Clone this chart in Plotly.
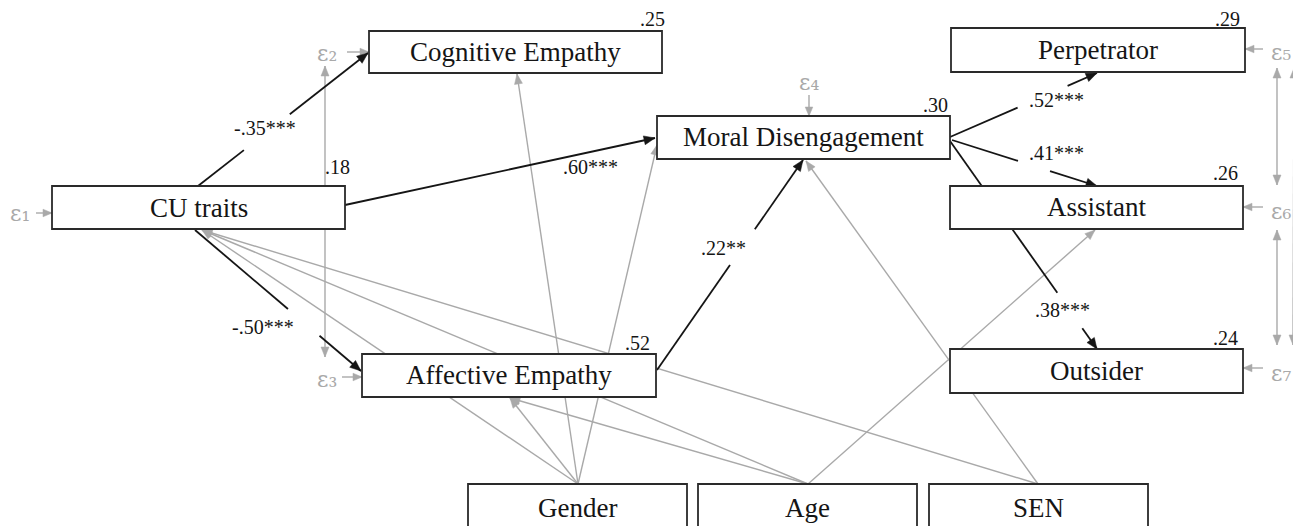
import numpy as np
import plotly.graph_objects as go

# ------------------------------------------------------------------ data
node_names = ["CU traits", "Cognitive Empathy", "Affective Empathy", "Moral Disengagement",
              "Perpetrator", "Assistant", "Outsider", "Gender", "Age", "SEN"]
r_squared = [".18", ".25", ".52", ".30", ".29", ".26", ".24", "", "", ""]

path_from = ["CU traits", "CU traits", "CU traits", "Affective Empathy",
             "Moral Disengagement", "Moral Disengagement", "Moral Disengagement"]
path_to = ["Cognitive Empathy", "Affective Empathy", "Moral Disengagement", "Moral Disengagement",
           "Perpetrator", "Assistant", "Outsider"]
path_coef = ["-.35***", "-.50***", ".60***", ".22**", ".52***", ".41***", ".38***"]

covariate_from = ["Gender", "Gender", "Gender", "Gender", "Age", "Age", "Age", "SEN", "SEN"]
covariate_to = ["CU traits", "Affective Empathy", "Cognitive Empathy", "Moral Disengagement",
                "CU traits", "Affective Empathy", "Assistant", "CU traits", "Moral Disengagement"]

error_labels = ["ε₁", "ε₂", "ε₃", "ε₄", "ε₅", "ε₆", "ε₇"]
error_targets = ["CU traits", "Cognitive Empathy", "Affective Empathy", "Moral Disengagement",
                 "Perpetrator", "Assistant", "Outsider"]
error_cov_pairs = [("ε₂", "ε₃"), ("ε₅", "ε₆"), ("ε₆", "ε₇"), ("ε₅", "ε₇")]

# ------------------------------------------------------------------ layout (page pixels)
W, H = 1301, 526
PAD = 8  # default body margin of the html page
box_x0 = [52, 369, 362, 657, 951, 950, 950, 468, 698, 929]
box_x1 = [345, 662, 656, 950, 1245, 1243, 1243, 687, 917, 1148]
box_y0 = [186, 31, 354, 116, 28, 186, 349, 484, 484, 484]
box_y1 = [229, 73, 397, 159, 72, 229, 393, 545, 545, 545]
label_y = [208, 52, 375, 137, 50, 207, 371, 508, 508, 508]
r2_pos = [(352, 167), (667, 19), (652, 343), (950, 105), (1242, 19), (1240, 173), (1240, 338),
          None, None, None]

# path geometry: start, end (arrow tip), gap along the line, label position
path_geom = [
    ((198, 186), (368, 53), (0.27, 0.54), (265, 128)),
    ((195, 230), (361, 371), (0.56, 0.75), (263, 327)),
    ((345, 205), (655, 138), None, (590, 167)),
    ((657, 370), (803, 160), (0.50, 0.67), (723, 248)),
    ((950, 137), (1097, 73), (0.46, 0.80), (1056, 100)),
    ((952, 140), (1097, 186), (0.455, 0.676), (1056, 153)),
    ((950, 141), (1097, 349), (0.73, 0.90), (1062, 310)),
]
cov_geom = [
    ((578, 484), (202, 230)),
    ((578, 484), (510, 398)),
    ((578, 484), (517, 74)),
    ((578, 484), (657, 145)),
    ((808, 484), (202, 230)),
    ((808, 484), (510, 398)),
    ((808, 484), (1095, 230)),
    ((1038, 484), (202, 230)),
    ((1038, 484), (806, 161)),
]
err_geom = [  # text pos, arrow start, arrow tip
    ((20, 213), (36, 213), (52, 213)),
    ((327, 53), (347, 52), (369, 52)),
    ((327, 379), (342, 377), (362, 377)),
    ((809, 82), (809, 95), (809, 116)),
    ((1281, 52), (1263, 49), (1245, 49)),
    ((1281, 211), (1263, 207), (1243, 207)),
    ((1281, 373), (1263, 368), (1243, 368)),
]
cov_err_geom = [
    ((325, 66), (325, 357)),
    ((1277, 68), (1277, 185)),
    ((1277, 230), (1277, 345)),
    ((1294, 68), (1293, 345)),
]

BLACK = "#151515"
GRAY = "#a9a9a9"
SERIF = "Liberation Serif, Times New Roman, serif"

shapes = []
annotations = []


def seg(p, q, color, width):
    shapes.append(dict(type="line", xref="x", yref="y", x0=p[0], y0=p[1], x1=q[0], y1=q[1],
                       line=dict(color=color, width=width), layer="above"))


def head(p, q, color, L=10.0, hw=4.0):
    d = np.array(q, float) - np.array(p, float)
    u = d / np.linalg.norm(d)
    n = np.array([-u[1], u[0]])
    tip = np.array(q, float)
    back = tip - L * u
    a = back + hw * n
    b = back - hw * n
    path = f"M {tip[0]:.2f},{tip[1]:.2f} L {a[0]:.2f},{a[1]:.2f} L {b[0]:.2f},{b[1]:.2f} Z"
    shapes.append(dict(type="path", xref="x", yref="y", path=path, fillcolor=color,
                       line=dict(color=color, width=0.5), layer="above"))


# covariate (gray) paths
for f, t, (p, q) in zip(covariate_from, covariate_to, cov_geom):
    seg(p, q, GRAY, 1.4)
    head(p, q, GRAY, 10, 4)

# error covariances
for (a, b), (p, q) in zip(error_cov_pairs, cov_err_geom):
    seg(p, q, GRAY, 1.4)
    head(q, p, GRAY, 10, 4)
    head(p, q, GRAY, 10, 4)

# error arrows
for lab, tgt, (tp, p, q) in zip(error_labels, error_targets, err_geom):
    seg(p, q, GRAY, 1.4)
    head(p, q, GRAY, 9, 3.8)
    annotations.append(dict(x=tp[0], y=tp[1], xref="x", yref="y", showarrow=False,
                            text=lab,
                            font=dict(family="DejaVu Serif, Noto Sans", size=22, color=GRAY),
                            xanchor="center", yanchor="middle"))

# structural (black) paths
for f, t, c, (p, q, gap, lp) in zip(path_from, path_to, path_coef, path_geom):
    P = np.array(p, float)
    Q = np.array(q, float)
    if gap is None:
        seg(p, q, BLACK, 1.8)
    else:
        g0 = P + gap[0] * (Q - P)
        g1 = P + gap[1] * (Q - P)
        seg(p, tuple(g0), BLACK, 1.8)
        seg(tuple(g1), q, BLACK, 1.8)
    head(p, q, BLACK, 11, 4.5)
    annotations.append(dict(x=lp[0], y=lp[1], xref="x", yref="y", showarrow=False, text=c,
                            font=dict(family=SERIF, size=20, color=BLACK),
                            xanchor="center", yanchor="middle"))

# boxes on top of lines
for i, name in enumerate(node_names):
    shapes.append(dict(type="rect", xref="x", yref="y", x0=box_x0[i], x1=box_x1[i],
                       y0=box_y0[i], y1=box_y1[i], fillcolor="white",
                       line=dict(color="#2a2a2a", width=1.8), layer="above"))
    annotations.append(dict(x=(box_x0[i] + box_x1[i]) / 2, y=label_y[i], xref="x", yref="y",
                            showarrow=False, text=name,
                            font=dict(family=SERIF, size=27, color=BLACK),
                            xanchor="center", yanchor="middle"))
    if r_squared[i]:
        rx, ry = r2_pos[i]
        annotations.append(dict(x=rx, y=ry, xref="x", yref="y", showarrow=False,
                                text=r_squared[i],
                                font=dict(family=SERIF, size=20, color=BLACK),
                                xanchor="right", yanchor="middle"))

fig = go.Figure()
fig.add_trace(go.Scatter(x=[PAD, W], y=[PAD, H], mode="markers", marker=dict(opacity=0),
                         hoverinfo="skip", showlegend=False))
fig.update_layout(
    width=W - PAD, height=H - PAD, margin=dict(l=0, r=0, t=0, b=0),
    paper_bgcolor="white", plot_bgcolor="white",
    xaxis=dict(range=[PAD, W], visible=False, fixedrange=True),
    yaxis=dict(range=[H, PAD], visible=False, fixedrange=True),
    shapes=shapes, annotations=annotations, showlegend=False,
)
fig.write_html("out.html")
